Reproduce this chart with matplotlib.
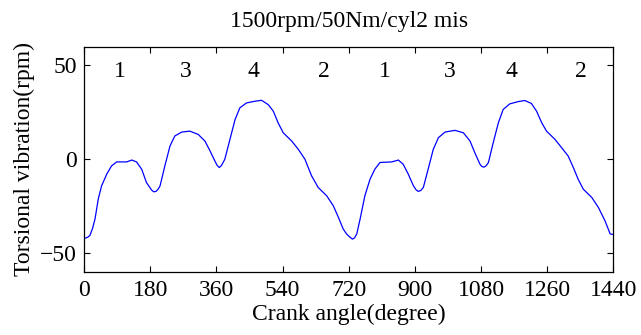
import matplotlib
matplotlib.use("Agg")
import matplotlib.pyplot as plt

plt.rcParams["font.family"] = ["Liberation Serif", "DejaVu Serif"]
plt.rcParams["mathtext.fontset"] = "stix"

# ── data ───────────────────────────────────────────────────────────────────
crank_deg = [0, 3, 10, 16, 23, 30, 39, 48, 62, 75, 89, 116, 130, 143, 157, 170,
             184, 190, 196, 202, 207, 220, 234, 247, 266, 288, 311, 329, 343,
             356, 362, 368, 374, 383, 397, 411, 424, 442, 465, 483, 501, 515,
             528, 542, 565, 583, 601, 619, 637, 660, 678, 692, 705, 714, 722,
             730, 736, 742, 751, 764, 778, 791, 805, 837, 855, 868, 882, 896,
             903, 909, 916, 923, 936, 950, 964, 982, 1009, 1032, 1050, 1063,
             1077, 1082, 1088, 1094, 1100, 1113, 1127, 1140, 1158, 1181, 1199,
             1217, 1231, 1245, 1258, 1281, 1299, 1317, 1331, 1344, 1358, 1381,
             1399, 1417, 1431, 1440]
vib_rpm = [-42.0, -42.0, -41.5, -40.6, -37.0, -31.8, -21.0, -14.1, -7.9, -3.5,
           -1.4, -1.4, -0.4, -1.4, -5.3, -12.4, -16.4, -17.3, -17.1, -15.8,
           -14.1, -3.5, 7.1, 12.4, 14.5, 15.0, 13.2, 9.7, 4.4, -0.9, -3.2,
           -4.4, -3.3, 0.0, 10.6, 21.2, 27.4, 30.0, 30.9, 31.4, 29.1, 25.6,
           19.4, 14.1, 9.7, 5.3, 0.0, -8.8, -15.0, -19.4, -24.7, -30.9, -37.1,
           -39.7, -41.2, -42.5, -41.8, -39.7, -31.8, -19.4, -10.6, -5.3, -1.7,
           -1.4, -0.4, -2.6, -7.9, -14.1, -16.2, -17.1, -16.6, -15.0, -5.3,
           5.3, 11.5, 14.5, 15.4, 14.1, 9.7, 3.5, -2.6, -3.8, -4.2, -3.4, -1.7,
           8.8, 19.4, 26.5, 29.5, 30.7, 31.3, 29.7, 25.6, 19.4, 15.0, 10.6,
           6.2, 1.7, -4.4, -10.6, -15.9, -20.3, -25.6, -32.7, -39.7, -40.1]

# firing order labels
cyl_labels = ["1", "3", "4", "2", "1", "3", "4", "2"]
cyl_pos = [98, 277, 462, 652, 819, 994, 1163, 1351]
label_level = 46.5

x_ticks = list(range(0, 1441, 180))
y_ticks = [-50, 0, 50]

# ── figure ─────────────────────────────────────────────────────────────────
fig = plt.figure(figsize=(6.41, 3.35), dpi=100)
ax = fig.add_axes([0.131, 0.188, 0.826, 0.673])

ax.plot(crank_deg, vib_rpm, color="#0000ff", lw=0.9)

for lab, xp in zip(cyl_labels, cyl_pos):
    ax.text(xp, label_level, lab, ha="center", va="center", fontsize=17)

ax.set_xlim(0, 1440)
ax.set_ylim(-60, 60)
ax.set_xticks(x_ticks)
ax.set_yticks(y_ticks)
ax.tick_params(direction="in", length=4, width=0.8, top=True, right=True,
               labelsize=17)
ax.tick_params(axis="x", pad=6)
ax.tick_params(axis="y", pad=5)
for s in ax.spines.values():
    s.set_linewidth(0.9)

ax.set_xlabel("Crank angle(degree)", fontsize=17, labelpad=2)
ax.set_ylabel("Torsional vibration(rpm)", fontsize=17, labelpad=4)
ax.set_title("1500rpm/50Nm/cyl2 mis", fontsize=17, pad=14)

fig.savefig("out.png", dpi=100)
